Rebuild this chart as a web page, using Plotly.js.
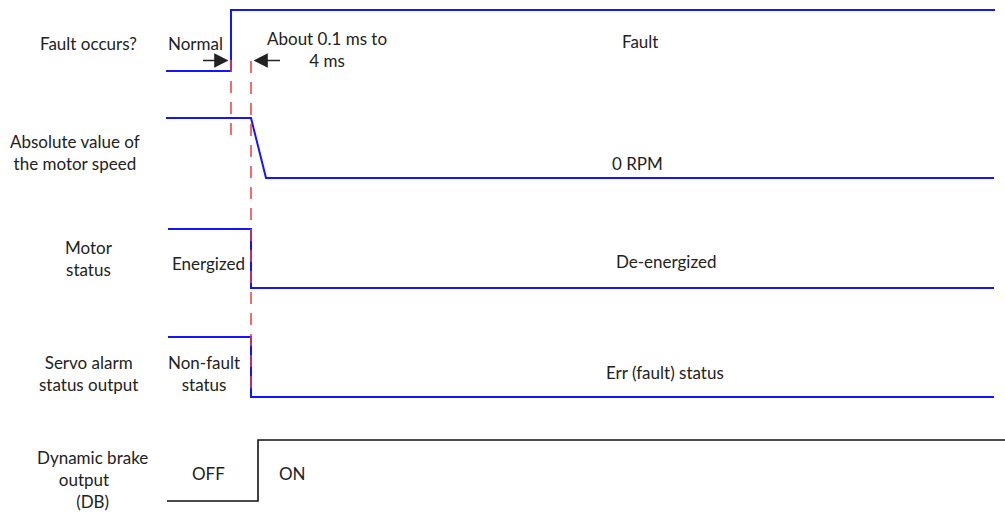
<!DOCTYPE html>
<html>
<head>
<meta charset="utf-8">
<script src="https://cdn.plot.ly/plotly-3.0.1.min.js"></script>
<style>
  html, body { margin: 0; padding: 0; background: #fff; }
  #chart { width: 1005px; height: 512px; }
</style>
</head>
<body>
<div id="chart"></div>
<script>
// ---------- DATA (time in units of the fault-response delay; 0 = fault instant) ----------
const signalNames = ["Fault occurs?", "Absolute value of<br>the motor speed", "Motor<br>status", "Servo alarm<br>status output", "Dynamic brake<br>output&nbsp;&nbsp;&nbsp;&nbsp;<br>(DB)"];
const stateBefore = ["Normal", "", "Energized", "Non-fault<br>status", "OFF"];
const stateAfter  = ["Fault", "0 RPM", "De-energized", "Err (fault) status", "ON"];

const faultTime  = [-3.25, 0, 0, 38.2];
const faultLevel = [0, 0, 1, 1];
const speedTime  = [-3.25, 1, 1.75, 38.15];
const speedLevel = [1, 1, 0, 0];
const motorTime  = [-3.15, 1, 1, 38.15];
const motorLevel = [1, 1, 0, 0];
const servoTime  = [-3.15, 1, 1, 38.15];
const servoLevel = [1, 1, 0, 0];
const dbTime     = [-3.2, 1.35, 1.35, 39];
const dbLevel    = [0, 0, 1, 1];

const faultInstant = 0;     // fault occurs
const responseInstant = 1;  // about 0.1 ms to 4 ms later
const delayText = "About 0.1 ms to<br>4 ms";

// ---------- LAYOUT ----------
const W = 1005, H = 512;
const BLUE = "#1414ff", BLACK = "#111111", RED = "#f23a3a", TXT = "#222222";
const FONT = "Lato, Noto Sans, sans-serif";
const FS = 17;

// pixel rows [lowPx, highPx] for each signal
const rows = [[71, 10], [178, 118], [288, 229], [397, 337], [501, 440]];
const pad = 0.15;
function domainFor(r) {
  const low = r[0], high = r[1], A = low - high;
  const bottomPx = low + pad * A, topPx = high - pad * A;
  return [Math.max(0, (H - bottomPx) / H), Math.min(1, (H - topPx) / H)];
}

const series = [
  [faultTime, faultLevel, BLUE],
  [speedTime, speedLevel, BLUE],
  [motorTime, motorLevel, BLUE],
  [servoTime, servoLevel, BLUE],
  [dbTime, dbLevel, BLACK]
];

const traces = series.map((s, i) => ({
  x: s[0], y: s[1], type: "scatter", mode: "lines",
  line: { color: s[2], width: i === 4 ? 1.6 : 2, shape: "linear" },
  xaxis: "x", yaxis: i === 0 ? "y" : "y" + (i + 1),
  hoverinfo: "skip", showlegend: false
}));

const layout = {
  width: W, height: H,
  margin: { l: 0, r: 0, t: 0, b: 0 },
  paper_bgcolor: "#ffffff", plot_bgcolor: "#ffffff",
  showlegend: false,
  font: { family: FONT, size: FS, color: TXT },
  xaxis: { range: [-11.55, 38.7], visible: false, fixedrange: true },
  shapes: [],
  annotations: []
};
rows.forEach((r, i) => {
  const key = i === 0 ? "yaxis" : "yaxis" + (i + 1);
  const d = domainFor(r);
  const A = r[0] - r[1];
  const bottomPx = H - d[0] * H, topPx = H - d[1] * H;
  layout[key] = {
    domain: d, anchor: "x", visible: false, fixedrange: true,
    range: [(r[0] - bottomPx) / A, (r[0] - topPx) / A]
  };
});

function P(x, y) { return { x: x / W, y: 1 - y / H }; }
function addText(text, x, y, extra) {
  const p = P(x, y);
  layout.annotations.push(Object.assign({
    text: text, xref: "paper", yref: "paper", x: p.x, y: p.y,
    xanchor: "center", yanchor: "middle", showarrow: false, align: "center",
    font: { family: FONT, size: FS, color: TXT }
  }, extra || {}));
}

// signal names (left column)
addText(signalNames[0], 88, 43);
addText(signalNames[1], 75, 152);
addText(signalNames[2], 89, 258);
addText(signalNames[3], 88, 373);
addText(signalNames[4], 92, 479);

// states
addText(stateBefore[0], 195, 43);
addText(stateBefore[2], 208, 263);
addText(stateBefore[3], 204, 373);
addText(stateBefore[4], 208, 473);
addText(stateAfter[0], 640, 41);
addText(stateAfter[1], 637, 163);
addText(stateAfter[2], 666, 261);
addText(stateAfter[3], 665, 372);
addText(stateAfter[4], 292, 473);
addText(delayText, 327, 49);

// dashed markers
layout.shapes.push({
  type: "line", xref: "x", yref: "paper", x0: faultInstant, x1: faultInstant,
  y0: 1 - 60 / H, y1: 1 - 138 / H, line: { color: RED, width: 1.5, dash: "12px,9px" }
});
layout.shapes.push({
  type: "line", xref: "x", yref: "paper", x0: responseInstant, x1: responseInstant,
  y0: 1 - 61 / H, y1: 1 - 397 / H, line: { color: RED, width: 1.5, dash: "12px,9px" }
});

// arrows marking the delay (head drawn at the annotation's text end)
const arrowY = 1 - 60.5 / H;
layout.annotations.push({
  xref: "x", yref: "paper", x: faultInstant - 1.4, y: arrowY, text: "",
  showarrow: true, arrowside: "start", arrowhead: 2, startarrowhead: 2, startarrowsize: 2.2,
  arrowwidth: 1.3, arrowcolor: "#222222",
  ax: 27, ay: 0, axref: "pixel", ayref: "pixel"
});
layout.annotations.push({
  xref: "x", yref: "paper", x: responseInstant + 1.45, y: arrowY, text: "",
  showarrow: true, arrowside: "start", arrowhead: 2, startarrowhead: 2, startarrowsize: 2.2,
  arrowwidth: 1.3, arrowcolor: "#222222",
  ax: -28, ay: 0, axref: "pixel", ayref: "pixel"
});

Plotly.newPlot("chart", traces, layout, { staticPlot: true, displayModeBar: false });
</script>
</body>
</html>
